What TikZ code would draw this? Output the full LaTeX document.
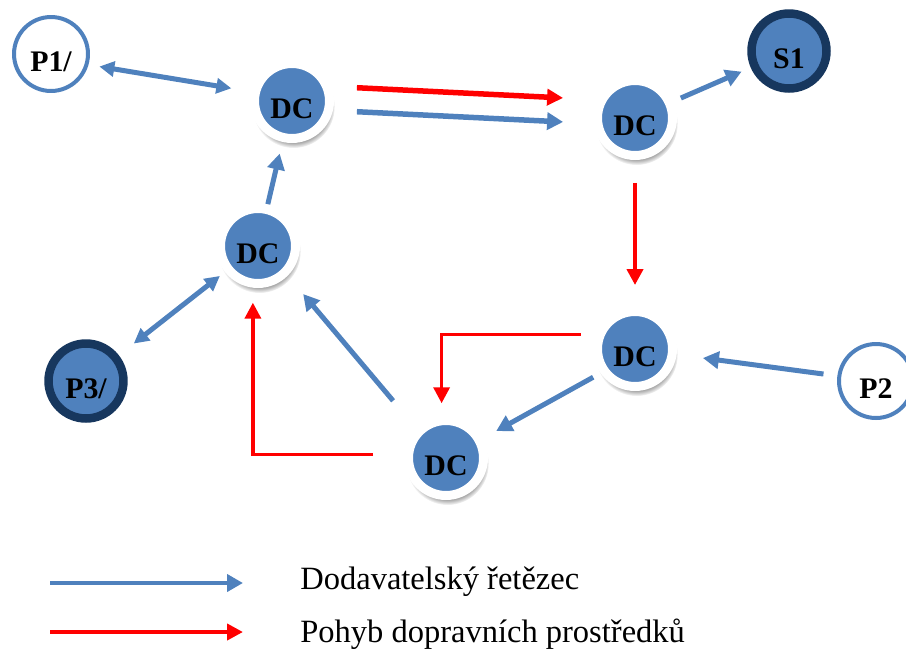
\documentclass[tikz,border=0pt]{standalone}
\usepackage{fontspec}
\setmainfont{Liberation Serif}
\usetikzlibrary{arrows.meta,positioning,calc,shadows}
\definecolor{dcblue}{RGB}{79,129,189}
\definecolor{dcnavy}{RGB}{23,55,94}
\definecolor{trred}{RGB}{255,0,0}

\begin{document}
\begin{tikzpicture}[x=0.02cm,y=-0.02cm,
stn/.style={circle, minimum size=1.5cm, inner sep=0pt, text height=0.68cm, text depth=0pt,
  font=\fontsize{17}{19}\selectfont\bfseries},
dcnode/.style={stn, fill=dcblue, draw=white, line width=0.18cm,
  circular drop shadow={shadow xshift=0.8pt, shadow yshift=-3pt, shadow scale=1.1, opacity=0.85, fill=black!45}},
endnode/.style={stn, fill=dcblue, draw=dcnavy, line width=0.17cm},
srcnode/.style={stn, fill=white, draw=dcblue, line width=0.08cm, minimum size=1.48cm},
sc/.style={draw=dcblue, line width=0.1cm, -{Triangle[length=0.32cm,width=0.34cm]}},
scboth/.style={sc, {Triangle[length=0.3cm,width=0.3cm]}-{Triangle[length=0.3cm,width=0.3cm]}},
tr/.style={draw=trred, line width=0.08cm, -{Triangle[length=0.32cm,width=0.32cm]}},
lgtext/.style={anchor=west, inner sep=0pt, font=\fontsize{18.5}{20}\selectfont}]
\useasboundingbox (0,0) rectangle (906,653);

\node[srcnode] (P1) at (51,54) {P1/};
\node[dcnode] (DC1) at (292,101) {DC};
\node[dcnode] (DC2) at (635,118) {DC};
\node[endnode] (S1) at (789,51) {S1};
\node[dcnode] (DC3) at (258,246) {DC};
\node[endnode] (P3) at (86,381) {P3/};
\node[dcnode] (DC4) at (635,349) {DC};
\node[srcnode] (P2) at (876,381) {P2};
\node[dcnode] (DC5) at (446,458) {DC};

\draw[scboth, shorten <=0.22cm, shorten >=0.4cm] (P1.-16) -- (DC1.167);
\draw[tr, line width=0.11cm, transform canvas={yshift=0.33cm}, shorten <=0.46cm, shorten >=0.6cm] (DC1) -- (DC2);
\draw[sc, line width=0.11cm, transform canvas={yshift=-0.15cm}, shorten <=0.46cm, shorten >=0.6cm] (DC1) -- (DC2);
\draw[sc, shorten <=0.16cm, shorten >=0.2cm] (DC2) -- (S1);
\draw[tr, shorten <=0.46cm, shorten >=0.44cm] (DC2) -- (DC4);
\draw[sc, shorten <=0.02cm, shorten >=0.24cm] (DC3) -- (DC1);
\draw[scboth, shorten <=0.13cm, shorten >=0.38cm] (DC3) -- (P3);
\draw[sc, shorten <=0.72cm, shorten >=0.48cm] (DC5.135) -- (DC3.-45);
\draw[tr, line width=0.07cm, shorten <=0.62cm, shorten >=0.3cm] (DC5.175) -| (DC3.-97);
\draw[tr, line width=0.07cm, shorten <=0.3cm, shorten >=0.26cm] (DC4.160) -| (DC5.96);
\draw[sc, shorten <=0.17cm, shorten >=0.3cm] (DC4.215) -- (DC5.28);
\draw[sc, shorten <=0.28cm, shorten >=0.53cm] (P2) -- (DC4);

% legend
\coordinate (LB1) at (50,583);
\coordinate (LB2) at (243,583);
\coordinate (LR1) at (50,632);
\coordinate (LR2) at (243,632);
\draw[sc, line width=0.08cm] (LB1) -- (LB2);
\draw[tr] (LR1) -- (LR2);
\node[lgtext] (L1) at (300,582) {Dodavatelský řetězec};
\node[lgtext] (L2) at (300,634) {Pohyb dopravních prostředků};
\end{tikzpicture}
\end{document}
